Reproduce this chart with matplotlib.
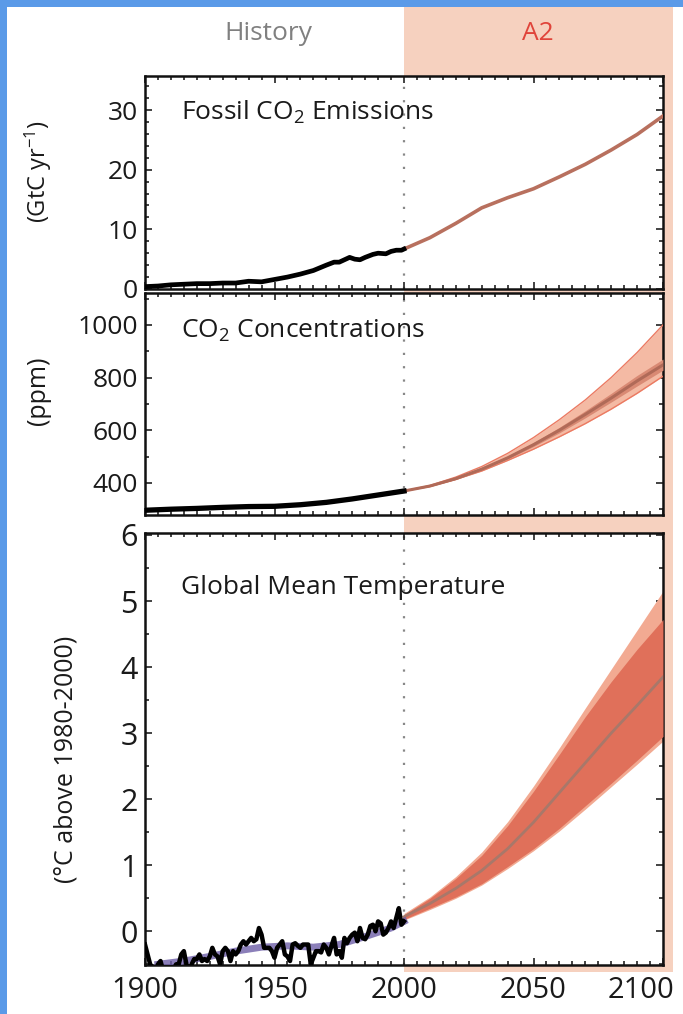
import numpy as np
import matplotlib
matplotlib.use("Agg")
import matplotlib.pyplot as plt
from matplotlib.patches import Rectangle
from matplotlib.ticker import MultipleLocator

plt.rcParams['font.family'] = ['Open Sans', 'DejaVu Sans']
plt.rcParams['mathtext.fontset'] = 'custom'
plt.rcParams['mathtext.rm'] = 'Open Sans'
plt.rcParams['mathtext.it'] = 'Open Sans'

# ---- data ----
x_ticks = [1900, 1950, 2000, 2050, 2100]
x_tick_labels = ['1900', '1950', '2000', '2050', '2100']

# fossil emissions, history (GtC/yr)
emis_hist_years = [1900, 1905, 1910, 1915, 1920, 1925, 1930, 1935, 1940, 1945, 1950,
                   1955, 1960, 1965, 1970, 1973, 1975, 1979, 1981, 1983, 1985, 1988,
                   1990, 1993, 1995, 1997, 1999, 2000]
emis_hist = [0.4, 0.5, 0.7, 0.8, 0.9, 0.9, 1.0, 1.0, 1.3, 1.2, 1.6,
             2.0, 2.5, 3.1, 4.0, 4.5, 4.5, 5.3, 5.0, 4.9, 5.3, 5.8,
             6.0, 5.9, 6.3, 6.5, 6.5, 6.7]
# fossil emissions, A2 scenario
emis_a2_years = [2000, 2010, 2020, 2030, 2040, 2050, 2060, 2070, 2080, 2090, 2100]
emis_a2 = [6.7, 8.6, 11.0, 13.6, 15.3, 16.8, 18.8, 20.9, 23.3, 25.9, 29.0]

# CO2 concentration, history (ppm)
co2_hist_years = [1900, 1910, 1920, 1930, 1940, 1950, 1960, 1970, 1980, 1990, 2000]
co2_hist = [296, 300, 303, 307, 310, 311, 317, 326, 339, 354, 369]
# CO2 concentration, A2 scenario
co2_years = [2000, 2010, 2020, 2030, 2040, 2050, 2060, 2070, 2080, 2090, 2100]
co2_mid = [369, 388, 416, 452, 495, 545, 600, 660, 722, 787, 848]
co2_hi = [369, 390, 422, 462, 512, 572, 640, 715, 800, 895, 1000]
co2_lo = [369, 386, 413, 445, 485, 528, 575, 625, 680, 740, 805]
co2_in_hi = [369, 389, 419, 456, 501, 553, 611, 674, 740, 808, 870]
co2_in_lo = [369, 387, 414, 448, 490, 538, 590, 647, 707, 768, 828]

# temperature, observed (deg C above 1980-2000)
temp_obs_years = list(range(1900, 2001))
temp_obs = [-0.20, -0.35, -0.50, -0.55, -0.60, -0.50, -0.45, -0.60, -0.55, -0.58,
            -0.55, -0.58, -0.50, -0.50, -0.35, -0.30, -0.50, -0.58, -0.50, -0.42,
            -0.42, -0.35, -0.45, -0.42, -0.45, -0.38, -0.25, -0.35, -0.38, -0.50,
            -0.30, -0.25, -0.30, -0.45, -0.30, -0.35, -0.30, -0.20, -0.15, -0.20,
            -0.15, -0.10, -0.15, -0.12, 0.05, -0.05, -0.25, -0.25, -0.25, -0.30,
            -0.40, -0.25, -0.20, -0.15, -0.35, -0.38, -0.45, -0.20, -0.18, -0.22,
            -0.25, -0.20, -0.20, -0.20, -0.50, -0.40, -0.30, -0.30, -0.32, -0.20,
            -0.25, -0.35, -0.22, -0.10, -0.35, -0.30, -0.40, -0.10, -0.18, -0.10,
            -0.05, -0.02, -0.15, 0.05, -0.10, -0.12, -0.05, 0.08, 0.10, 0.00,
            0.15, 0.12, -0.05, -0.02, 0.05, 0.15, 0.05, 0.20, 0.35, 0.10, 0.15]
# temperature, model historical mean (purple)
temp_mod_years = [1905, 1915, 1925, 1935, 1945, 1955, 1965, 1975, 1985, 1995, 2000]
temp_mod = [-0.50, -0.45, -0.38, -0.30, -0.24, -0.22, -0.24, -0.20, -0.08, 0.05, 0.15]
# temperature, A2 projection
temp_years = [2000, 2010, 2020, 2030, 2040, 2050, 2060, 2070, 2080, 2090, 2100]
temp_mid = [0.22, 0.42, 0.65, 0.92, 1.25, 1.65, 2.10, 2.55, 3.00, 3.42, 3.85]
temp_in_hi = [0.25, 0.50, 0.80, 1.15, 1.60, 2.12, 2.68, 3.25, 3.78, 4.27, 4.72]
temp_out_hi = [0.27, 0.52, 0.83, 1.20, 1.66, 2.20, 2.78, 3.38, 3.97, 4.56, 5.15]
temp_in_lo = [0.18, 0.35, 0.52, 0.72, 0.98, 1.25, 1.56, 1.90, 2.24, 2.59, 2.95]
temp_out_lo = [0.17, 0.33, 0.50, 0.70, 0.95, 1.22, 1.52, 1.85, 2.19, 2.53, 2.88]

W, H = 683, 1014
fig = plt.figure(figsize=(W / 100, H / 100), dpi=100)

def frac_box(left, top, right, bottom):
    return [left / W, 1 - bottom / H, (right - left) / W, (bottom - top) / H]

ax1 = fig.add_axes(frac_box(145, 76, 663, 289))
ax2 = fig.add_axes(frac_box(145, 293, 663, 515))
ax3 = fig.add_axes(frac_box(145, 533, 663, 965))

ink = '#1a1a1a'
for ax in (ax1, ax2, ax3):
    ax.set_xlim(1900, 2100)
    ax.set_xticks(x_ticks)
    ax.xaxis.set_minor_locator(MultipleLocator(5))
    ax.tick_params(which='both', direction='in', top=True, right=True, width=1.2, color='#222222')
    ax.tick_params(which='major', length=5)
    ax.tick_params(which='minor', length=3)
    for s in ax.spines.values():
        s.set_linewidth(1.8)
        s.set_color('#111111')
    ax.axvline(2000, color='#888888', lw=1.6, ls=(0, (1, 5)), zorder=1)
    ax.set_zorder(2)

# panel 1
ax1.set_ylim(0, 35.7)
ax1.yaxis.set_major_locator(MultipleLocator(10))
ax1.yaxis.set_minor_locator(MultipleLocator(2))
ax1.plot(emis_a2_years, emis_a2, color='#B8705E', lw=2.6, zorder=3)
ax1.plot(emis_hist_years, emis_hist, color='black', lw=3.4, zorder=4)
ax1.text(0.07, 0.83, 'Fossil CO$_\\mathregular{2}$ Emissions', transform=ax1.transAxes,
         fontsize=19, color=ink, va='center')
ax1.text(-0.205, 0.55, '(GtC yr$^\\mathregular{-1}$)', transform=ax1.transAxes,
         rotation=90, ha='center', va='center', fontsize=17, color=ink)

# panel 2
ax2.set_ylim(278, 1121)
ax2.yaxis.set_major_locator(MultipleLocator(200))
ax2.yaxis.set_minor_locator(MultipleLocator(100))
ax2.fill_between(co2_years, co2_lo, co2_hi, color='#F4BAA4', lw=0, zorder=2)
ax2.plot(co2_years, co2_hi, color='#EB7A62', lw=1.0, zorder=3)
ax2.plot(co2_years, co2_lo, color='#EB7A62', lw=1.0, zorder=3)
ax2.fill_between(co2_years, co2_in_lo, co2_in_hi, color='#D98A74', lw=0, zorder=3)
ax2.plot(co2_years, co2_mid, color='#B06A58', lw=2.2, zorder=4)
ax2.plot(co2_hist_years, co2_hist, color='black', lw=3.8, zorder=5)
ax2.text(0.07, 0.83, 'CO$_\\mathregular{2}$ Concentrations', transform=ax2.transAxes,
         fontsize=19, color=ink, va='center')
ax2.text(-0.205, 0.56, '(ppm)', transform=ax2.transAxes,
         rotation=90, ha='center', va='center', fontsize=18, color=ink)

# panel 3
ax3.set_ylim(-0.51, 6.03)
ax3.yaxis.set_major_locator(MultipleLocator(1))
ax3.yaxis.set_minor_locator(MultipleLocator(0.5))
ax3.fill_between(temp_years, temp_out_lo, temp_out_hi, color='#F2AA92', lw=0, zorder=2)
ax3.fill_between(temp_years, temp_in_lo, temp_in_hi, color='#E0705A', lw=0, zorder=3)
ax3.plot(temp_years, temp_mid, color='#A8786A', lw=2.0, zorder=4)
ax3.plot(temp_mod_years, temp_mod, color='#6E5FA8', lw=5, alpha=0.8, zorder=4)
ax3.plot(temp_obs_years, temp_obs, color='black', lw=3.2, zorder=5)
ax3.text(0.07, 0.875, 'Global Mean Temperature', transform=ax3.transAxes,
         fontsize=19, color=ink, va='center')
ax3.text(-0.152, 0.475, '(°C above 1980-2000)', transform=ax3.transAxes,
         rotation=90, ha='center', va='center', fontsize=18, color=ink)

for ax in (ax1, ax2):
    ax.tick_params(labelbottom=False)
    ax.tick_params(axis='y', labelsize=19, pad=5, labelcolor=ink)
ax3.tick_params(axis='y', labelsize=22, pad=5, labelcolor=ink)

# x labels: the last one sits shifted left so it stays inside the picture
ax3.set_xticklabels(x_tick_labels[:-1] + [''])
ax3.tick_params(axis='x', labelsize=21, pad=8, labelcolor=ink)
ax3.annotate(x_tick_labels[-1], xy=(x_ticks[-1], 0), xycoords=('data', 'axes fraction'),
             xytext=(-22, -11), textcoords='offset pixels', ha='center', va='top',
             fontsize=21, color=ink, annotation_clip=False)

fig.canvas.draw()
# A2 shaded region behind the panels
x2000 = fig.transFigure.inverted().transform(ax1.transData.transform((2000, 0)))[0]
fig.add_artist(Rectangle((x2000, 1 - 972 / H), 673 / W - x2000, (972 - 7) / H,
                         transform=fig.transFigure, facecolor='#F6D1BF',
                         edgecolor='none', zorder=0))

# blue frame of the screenshot
fig.add_artist(Rectangle((0, 1 - 7 / H), 1, 7 / H, transform=fig.transFigure,
                         facecolor='#5A9AE8', edgecolor='none', zorder=10))
fig.add_artist(Rectangle((0, 0), 7 / W, 1, transform=fig.transFigure,
                         facecolor='#5A9AE8', edgecolor='none', zorder=10))

fig.text(268 / W, 1 - 33 / H, 'History', ha='center', va='center', fontsize=19, color='#808080')
fig.text(538 / W, 1 - 33 / H, 'A2', ha='center', va='center', fontsize=19, color='#E0443A')

fig.savefig('out.png', dpi=100)
